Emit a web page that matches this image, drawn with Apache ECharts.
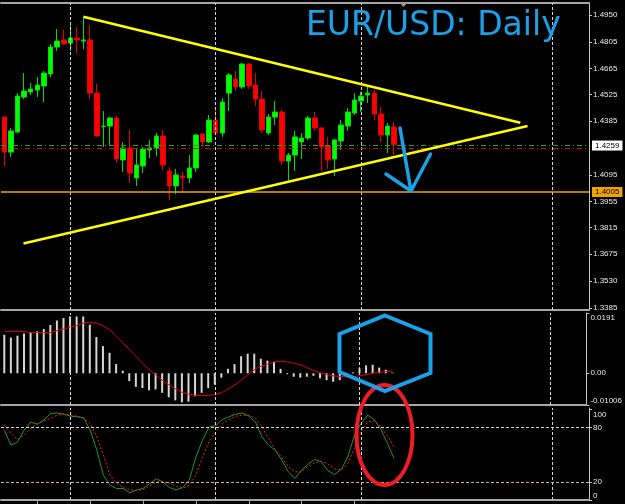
<!DOCTYPE html>
<html>
<head>
<meta charset="utf-8">
<script src="https://cdn.jsdelivr.net/npm/echarts@6/dist/echarts.min.js"></script>
<style>
html, body { margin: 0; padding: 0; background: #000; }
#chart { width: 625px; height: 504px; }
</style>
</head>
<body>
<div id="chart"></div>
<script>
// daily bars, echarts order: [open, close, low, high]
var ohlc = [
    [1.4405, 1.4218, 1.4144, 1.4411], [1.4218, 1.4331, 1.4192, 1.4347], [1.4325, 1.4517, 1.4320, 1.4533],
    [1.4512, 1.4544, 1.4501, 1.4640], [1.4539, 1.4555, 1.4523, 1.4587], [1.4549, 1.4576, 1.4512, 1.4619],
    [1.4571, 1.4640, 1.4485, 1.4651], [1.4635, 1.4779, 1.4619, 1.4795], [1.4779, 1.4811, 1.4758, 1.4875],
    [1.4817, 1.4795, 1.4795, 1.4870], [1.4800, 1.4827, 1.4758, 1.4897], [1.4827, 1.4817, 1.4747, 1.4886],
    [1.4811, 1.4817, 1.4768, 1.4939], [1.4817, 1.4533, 1.4501, 1.4897], [1.4533, 1.4304, 1.4299, 1.4582],
    [1.4354, 1.4357, 1.4245, 1.4437], [1.4357, 1.4400, 1.4256, 1.4405], [1.4400, 1.4181, 1.4160, 1.4411],
    [1.4176, 1.4240, 1.4112, 1.4272], [1.4240, 1.4106, 1.4053, 1.4336], [1.4080, 1.4149, 1.4037, 1.4234],
    [1.4144, 1.4234, 1.4106, 1.4245], [1.4229, 1.4240, 1.4186, 1.4283], [1.4240, 1.4304, 1.4197, 1.4320],
    [1.4304, 1.4149, 1.4122, 1.4336], [1.4117, 1.4037, 1.3962, 1.4138], [1.4037, 1.4096, 1.3994, 1.4128],
    [1.4090, 1.4080, 1.4000, 1.4112], [1.4080, 1.4133, 1.4053, 1.4202], [1.4133, 1.4309, 1.4112, 1.4315],
    [1.4315, 1.4272, 1.4245, 1.4318], [1.4272, 1.4389, 1.4267, 1.4416], [1.4389, 1.4320, 1.4318, 1.4453],
    [1.4320, 1.4485, 1.4299, 1.4507], [1.4533, 1.4630, 1.4437, 1.4640], [1.4608, 1.4566, 1.4544, 1.4651],
    [1.4566, 1.4688, 1.4555, 1.4694], [1.4688, 1.4571, 1.4555, 1.4694], [1.4576, 1.4501, 1.4464, 1.4640],
    [1.4501, 1.4336, 1.4320, 1.4544], [1.4320, 1.4405, 1.4309, 1.4421], [1.4405, 1.4432, 1.4363, 1.4491],
    [1.4432, 1.4170, 1.4149, 1.4443], [1.4170, 1.4202, 1.4058, 1.4213], [1.4202, 1.4299, 1.4117, 1.4331],
    [1.4272, 1.4293, 1.4181, 1.4320], [1.4293, 1.4400, 1.4283, 1.4411], [1.4400, 1.4347, 1.4331, 1.4432],
    [1.4347, 1.4245, 1.4117, 1.4352], [1.4250, 1.4176, 1.4128, 1.4299], [1.4181, 1.4283, 1.4090, 1.4288],
    [1.4277, 1.4363, 1.4229, 1.4389], [1.4357, 1.4432, 1.4331, 1.4453], [1.4427, 1.4496, 1.4416, 1.4533],
    [1.4491, 1.4517, 1.4432, 1.4539], [1.4523, 1.4533, 1.4480, 1.4576], [1.4533, 1.4421, 1.4389, 1.4549],
    [1.4421, 1.4309, 1.4272, 1.4459], [1.4309, 1.4357, 1.4213, 1.4373], [1.4352, 1.4259, 1.4202, 1.4379]
];

var macdHist = [
    0.0122, 0.0113, 0.0119, 0.0126, 0.0130, 0.0133, 0.0140, 0.0153, 0.0167, 0.0175,
    0.0180, 0.0180, 0.0180, 0.0154, 0.0115, 0.0086, 0.0065, 0.0029, 0.0008, -0.0025,
    -0.0043, -0.0047, -0.0054, -0.0051, -0.0062, -0.0076, -0.0086, -0.0092, -0.0090, -0.0073,
    -0.0062, -0.0047, -0.0036, -0.0014, 0.0014, 0.0029, 0.0054, 0.0062, 0.0062, 0.0046,
    0.0040, 0.0036, 0.0014, -0.0003, -0.0011, -0.0014, -0.0011, -0.0008, -0.0016, -0.0022,
    -0.0027, -0.0022, -0.0011, 0.0003, 0.0016, 0.0025, 0.0027, 0.0018, 0.0011, 0.0002
];
var macdSignal = [
    0.0133, 0.0133, 0.0133, 0.0132, 0.0129, 0.0129, 0.0129, 0.0129, 0.0135, 0.0140,
    0.0146, 0.0151, 0.0159, 0.0162, 0.0159, 0.0151, 0.0138, 0.0119, 0.0097, 0.0076,
    0.0054, 0.0032, 0.0011, -0.0005, -0.0022, -0.0036, -0.0049, -0.0060, -0.0066, -0.0070,
    -0.0071, -0.0070, -0.0068, -0.0062, -0.0051, -0.0038, -0.0022, -0.0005, 0.0011, 0.0022,
    0.0029, 0.0036, 0.0038, 0.0036, 0.0032, 0.0027, 0.0018, 0.0008, 0.0002, -0.0004,
    -0.0008, -0.0010, -0.0011, -0.0011, -0.0008, -0.0004, 0.0000, 0.0003, 0.0005, 0.0007
];
var stochK = [
    77, 60.5, 64, 77, 86, 83.7, 88, 95.4, 96, 94.7,
    92.5, 91.8, 91, 77, 55, 27.4, 16.4, 12.7, 12.7, 8,
    11, 12.7, 18.2, 23.4, 20, 13.8, 11, 13.8, 22, 47.6,
    66, 80.7, 82, 88.8, 91.8, 94.7, 96, 92.5, 86.2, 69.7,
    60.5, 55, 44, 31, 23.8, 33, 39.6, 44.7, 42, 32.2,
    28.2, 33.7, 47.6, 71.5, 84.4, 93.6, 88.8, 77.8, 62.4, 45.8
];
var stochD = [
    82.6, 73.4, 66.8, 71.5, 79, 83.7, 87.4, 90, 93.6, 94.7,
    93.6, 92.5, 90, 84.4, 69.7, 49.5, 27.4, 18.2, 13.8, 11.6,
    10.2, 11.6, 15.3, 20, 20, 18.2, 15.3, 12.7, 16.4, 27.4,
    47, 64.2, 75.2, 84.4, 88.8, 92.5, 93.6, 93.6, 90, 80.7,
    67.9, 55.7, 47, 36.6, 31, 31, 37.4, 41, 42.9, 39.6,
    34.4, 33, 40.3, 56.8, 76.3, 85.9, 87.4, 80.7, 70.4, 58.7
];

// tick labels
var priceTicks = [1.4950, 1.4805, 1.4665, 1.4525, 1.4385, 1.4095, 1.3955, 1.3815, 1.3675, 1.3530, 1.3385];
var macdTicks = [0.0191, 0, -0.01006];
var macdTickText = ['0.0191', '0.00', '-0.01006'];
var stochTicks = [100, 80, 20, 0];
var stochLevels = [80, 20];

// chart lines drawn by the analyst: [bar index, price]
var upperTrend = [[11.97, 1.4941], [78.1, 1.4375]];
var lowerTrend = [[2.9, 1.3730], [79.2, 1.4357]];
var bidLine = 1.4253, askLine = 1.4236, lastPrice = '1.4259';
var supportLine = 1.4005;
var timeGrid = [10, 32, 54, 83];

var slots = 89;
var categories = [];
for (var i = 0; i < slots; i++) categories.push('bar ' + i);

var axisGray = '#a6a6a6';
var textColor = '#e8e8e8';
var font = 'Liberation Sans';

function vGrid() {
    return timeGrid.map(function (v) { return { xAxis: v }; });
}
var dashStyle = { color: '#d6d6d6', type: [3, 2], width: 1 };

function catAxis(grid) {
    return {
        type: 'category', gridIndex: grid, data: categories, boundaryGap: true,
        axisLine: { show: true, onZero: false, lineStyle: { color: axisGray, width: 2 } },
        axisTick: { show: false }, axisLabel: { show: false }, splitLine: { show: false }
    };
}
function idxAxis(grid, showTop) {
    return {
        type: 'value', gridIndex: grid, position: 'top', min: -0.5, max: slots - 0.5,
        axisLine: { show: showTop, onZero: false, lineStyle: { color: axisGray, width: 2 } },
        axisTick: { show: false }, axisLabel: { show: false }, splitLine: { show: false }
    };
}
function edgeRich() {
    return {
        t: { padding: [10, 0, 0, 0], fontSize: 8, color: textColor, fontFamily: font },
        b: { padding: [0, 0, 9, 0], fontSize: 8, color: textColor, fontFamily: font }
    };
}
function sideLine() {
    return { show: true, onZero: false, lineStyle: { color: '#c4c4c4' } };
}

var stochX = catAxis(2);
stochX.axisTick = {
    show: true, alignWithLabel: true, length: 5, lineStyle: { color: axisGray },
    interval: function (index) { return index % 8 === 5 && index < ohlc.length; }
};

var option = {
    backgroundColor: '#000',
    animation: false,
    grid: [
        { left: 1, right: 36, top: 3, height: 307 },
        { left: 1, right: 36, top: 313, height: 92 },
        { left: 1, right: 36, top: 408, height: 92 }
    ],
    xAxis: [catAxis(0), idxAxis(0, true), catAxis(1), idxAxis(1, false), stochX, idxAxis(2, false)],
    yAxis: [
        {
            type: 'value', gridIndex: 0, position: 'right', min: 1.3375, max: 1.5014,
            axisLine: sideLine(),
            axisTick: { show: true, length: 3, customValues: priceTicks, lineStyle: { color: '#c4c4c4' } },
            axisLabel: {
                customValues: priceTicks, color: textColor, fontSize: 8, fontFamily: font, margin: 4,
                formatter: function (v) { return v.toFixed(4); }
            },
            splitLine: { show: false }
        },
        {
            type: 'value', gridIndex: 1, position: 'right', min: -0.01006, max: 0.0191,
            axisLine: sideLine(),
            axisTick: { show: true, length: 3, customValues: macdTicks, lineStyle: { color: '#c4c4c4' } },
            axisLabel: {
                customValues: macdTicks, color: textColor, fontSize: 8, fontFamily: font, margin: 4,
                formatter: function (v) {
                    for (var k = 0; k < macdTicks.length; k++) {
                        if (Math.abs(macdTicks[k] - v) < 1e-9) {
                            if (k === 0) return '{t|' + macdTickText[k] + '}';
                            if (k === macdTicks.length - 1) return '{b|' + macdTickText[k] + '}';
                            return macdTickText[k];
                        }
                    }
                    return '';
                },
                rich: edgeRich()
            },
            splitLine: { show: false }
        },
        {
            type: 'value', gridIndex: 2, position: 'right', min: 0, max: 101.5,
            axisLine: sideLine(),
            axisTick: { show: true, length: 3, customValues: stochTicks, lineStyle: { color: '#c4c4c4' } },
            axisLabel: {
                customValues: stochTicks, color: textColor, fontSize: 8, fontFamily: font, margin: 4,
                formatter: function (v) {
                    if (v === 100) return '{t|100}';
                    if (v === 0) return '{b|0}';
                    return String(v);
                },
                rich: edgeRich()
            },
            splitLine: { show: false }
        }
    ],
    series: [
        {
            name: 'grid main', type: 'line', xAxisIndex: 1, yAxisIndex: 0, data: [], z: 1,
            markLine: { silent: true, symbol: ['none', 'none'], label: { show: false }, lineStyle: dashStyle, data: vGrid() }
        },
        {
            name: 'EURUSD', type: 'candlestick', xAxisIndex: 0, yAxisIndex: 0, data: ohlc, barWidth: 5, z: 3,
            itemStyle: { color: '#00ff00', color0: '#ff0000', borderColor: '#00e000', borderColor0: '#e80000', borderWidth: 1 }
        },
        {
            name: 'price lines', type: 'line', xAxisIndex: 1, yAxisIndex: 0, data: [], z: 4,
            markLine: {
                silent: true, symbol: ['none', 'none'], precision: 4, label: { show: false },
                data: [
                    { yAxis: askLine, lineStyle: { color: '#c81818', type: [5, 3, 1, 3], width: 1 } },
                    {
                        yAxis: bidLine, lineStyle: { color: '#2ea02e', type: [5, 3, 1, 3], width: 1 },
                        label: {
                            show: true, position: 'end', distance: 3, formatter: lastPrice,
                            backgroundColor: '#ffffff', color: '#000', fontSize: 8, fontFamily: font, padding: [1, 3]
                        }
                    },
                    {
                        yAxis: supportLine, lineStyle: { color: '#f0a400', type: 'solid', width: 1.5 },
                        label: {
                            show: true, position: 'end', distance: 3, formatter: supportLine.toFixed(4),
                            backgroundColor: '#f0a400', color: '#000', fontSize: 8, fontFamily: font, padding: [1, 3]
                        }
                    }
                ]
            }
        },
        {
            name: 'upper trend', type: 'line', xAxisIndex: 1, yAxisIndex: 0, data: upperTrend, z: 5,
            symbol: 'none', lineStyle: { color: '#ffff00', width: 2.5 }
        },
        {
            name: 'lower trend', type: 'line', xAxisIndex: 1, yAxisIndex: 0, data: lowerTrend, z: 5,
            symbol: 'none', lineStyle: { color: '#ffff00', width: 2.5 }
        },
        {
            name: 'grid macd', type: 'line', xAxisIndex: 3, yAxisIndex: 1, data: [], z: 1,
            markLine: { silent: true, symbol: ['none', 'none'], label: { show: false }, lineStyle: dashStyle, data: vGrid() }
        },
        {
            name: 'MACD', type: 'bar', xAxisIndex: 2, yAxisIndex: 1, data: macdHist, barWidth: 2, z: 3,
            itemStyle: { color: '#d6d6d6' }
        },
        {
            name: 'Signal', type: 'line', xAxisIndex: 2, yAxisIndex: 1, data: macdSignal, z: 4,
            symbol: 'none', lineStyle: { color: '#e00000', width: 1 }
        },
        {
            name: 'grid stoch', type: 'line', xAxisIndex: 5, yAxisIndex: 2, data: [], z: 1,
            markLine: {
                silent: true, symbol: ['none', 'none'], label: { show: false }, lineStyle: dashStyle,
                data: vGrid().concat([
                    { yAxis: stochLevels[0], lineStyle: { color: '#d6d6d6', type: [3, 2], width: 1 } },
                    { yAxis: stochLevels[1], lineStyle: { color: '#c8b496', type: [3, 2], width: 1 } }
                ])
            }
        },
        {
            name: '%K', type: 'line', xAxisIndex: 4, yAxisIndex: 2, data: stochK, z: 3,
            symbol: 'none', lineStyle: { color: '#1e9a1e', width: 1 }
        },
        {
            name: '%D', type: 'line', xAxisIndex: 4, yAxisIndex: 2, data: stochD, z: 4,
            symbol: 'none', lineStyle: { color: '#ff2020', width: 1, type: [2, 2] }
        }
    ],
    graphic: [
        {
            type: 'text', left: 306, top: 10, z: 20,
            style: { text: 'EUR/USD: Daily', fill: '#1ba1e8', font: '33px "DejaVu Sans"' }
        },
        {
            type: 'polygon', z: 20,
            shape: { points: [[399, 2], [408, 2], [403.5, 7]] },
            style: { fill: '#9a9a9a' }
        },
        {
            type: 'polyline', z: 20,
            shape: { points: [[400, 128], [411, 191]] },
            style: { stroke: '#1ba1e8', lineWidth: 3.5, lineCap: 'round', fill: null }
        },
        {
            type: 'polyline', z: 20,
            shape: { points: [[386, 174], [411, 191], [430.5, 154]] },
            style: { stroke: '#1ba1e8', lineWidth: 3.5, lineCap: 'round', lineJoin: 'round', fill: null }
        },
        {
            type: 'ellipse', z: 19,
            shape: { cx: 384.5, cy: 435, rx: 28, ry: 50 },
            style: { stroke: '#ee1c24', lineWidth: 4, fill: null }
        },
        {
            type: 'polygon', z: 21,
            shape: { points: [[385, 315.5], [430.5, 334], [430.5, 373], [385, 391], [339.5, 372], [339.5, 334]] },
            style: { stroke: '#1ba1e8', lineWidth: 4, fill: null }
        }
    ]
};

var myChart = echarts.init(document.getElementById('chart'));
myChart.setOption(option);
</script>
</body>
</html>
